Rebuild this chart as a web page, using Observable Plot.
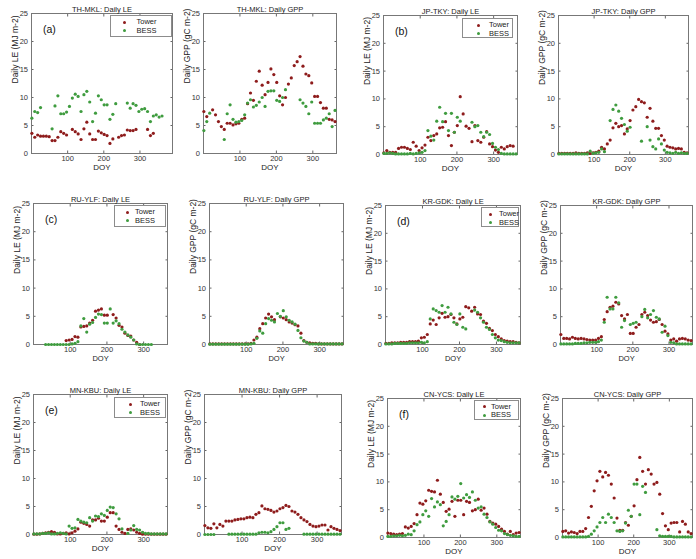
<!DOCTYPE html>
<html><head><meta charset="utf-8">
<script src="https://cdn.jsdelivr.net/npm/d3@7"></script>
<script src="https://cdn.jsdelivr.net/npm/@observablehq/plot@0.6"></script>
<style>
html,body{margin:0;padding:0;background:#fff;}
#root{position:relative;width:696px;height:559px;overflow:hidden;font-family:"Liberation Sans",Arial,sans-serif;background:#fff;}
.pw{position:absolute;overflow:hidden;}
.legend{position:absolute;background:#fff;border:1px solid #8c8c8c;box-sizing:border-box;font-size:7.5px;color:#222;}
.legend span{position:absolute;line-height:1;}
.mk{width:3px;height:3px;border-radius:50%;}
.tag{position:absolute;font-size:10.5px;color:#111;font-family:"Liberation Sans",Arial,sans-serif;}
</style></head><body><div id="root"></div>
<script>
// ---- data ----
const doy = [1,9,17,25,33,41,49,57,65,73,81,89,97,105,113,121,129,137,145,153,161,169,177,185,193,201,209,217,225,233,241,249,257,265,273,281,289,297,305,313,321,329,337,345,353,361];
const xTicks = [100,200,300];
const yTicks = [0,5,10,15,20,25];
const seriesNames = ["Tower","BESS"];
const titles = ["TH-MKL: Daily LE","TH-MKL: Daily GPP","JP-TKY: Daily LE","JP-TKY: Daily GPP",
 "RU-YLF: Daily LE","RU-YLF: Daily GPP","KR-GDK: Daily LE","KR-GDK: Daily GPP",
 "MN-KBU: Daily LE","MN-KBU: Daily GPP","CN-YCS: Daily LE","CN-YCS: Daily GPP"];
const yLabels = ["Daily LE (MJ m-2)","Daily GPP (gC m-2)"];
const tags = ["(a)","(b)","(c)","(d)","(e)","(f)"];

const thmklLeTower = [3.6,2.9,3.3,3.1,3.1,3.1,3.0,2.3,2.3,2.9,3.9,3.6,3.3,null,4.3,3.9,3.5,2.5,4.4,5.6,3.5,2.5,2.5,4.0,3.7,3.4,3.2,1.8,2.6,null,2.9,3.2,3.3,4.2,4.1,4.1,4.3,null,null,null,4.3,3.2,3.6,null,null,null];
const thmklLeBess = [6.3,7.5,7.3,8.2,null,null,null,4.4,8.5,10.3,7.1,7.1,7.4,8.4,9.9,10.6,10.2,7.5,10.5,11.1,9.2,5.7,7.2,10.3,9.6,8.7,8.7,6.1,7.0,8.9,null,null,null,9.0,8.1,8.9,8.6,7.5,7.9,8.0,7.5,5.7,6.7,6.9,6.5,6.7];
const thmklGppTower = [7.5,6.6,null,7.8,6.9,5.7,4.8,4.3,5.4,5.4,5.1,5.3,5.4,6.1,6.3,8.9,10.8,9.5,12.9,14.7,12.2,10.5,12.7,15.1,14.1,12.7,10.3,8.7,10.0,12.4,13.5,15.7,16.4,17.3,15.6,14.2,13.9,12.6,10.2,10.2,9.1,8.1,8.1,6.1,6.0,5.7];
const thmklGppBess = [4.1,5.7,7.2,null,null,null,null,2.5,7.1,8.7,6.1,5.6,5.7,5.9,6.9,9.0,9.6,8.3,8.6,9.2,10.0,8.4,11.1,11.2,11.2,9.5,9.3,10.0,11.4,null,null,null,null,9.6,9.0,8.4,7.1,9.2,5.4,5.4,5.4,6.0,6.3,7.1,4.8,7.7];
const jptkyLeTower = [0.3,0.7,0.4,0.4,0.4,1.1,1.3,1.3,1.1,0.9,2.2,1.5,0.7,1.2,1.7,3.1,2.5,3.4,3.7,4.8,4.9,5.9,3.4,1.6,4.0,5.2,10.4,7.3,5.1,4.7,2.3,5.2,2.5,2.2,3.1,4.1,1.9,1.4,0.8,0.4,1.3,1.0,1.4,1.6,1.5,null];
const jptkyLeBess = [0.2,0.2,0.3,0.2,0.1,0.1,0.1,0.1,0.1,0.2,0.1,0.2,0.3,0.4,0.7,4.3,3.3,2.6,6.0,8.5,5.9,7.4,4.3,7.4,4.0,6.7,6.0,null,null,null,5.8,5.0,5.2,4.0,3.2,4.0,3.6,2.0,1.3,0.9,0.2,0.1,0.1,0.1,0.1,0.1];
const jptkyGppTower = [0.2,0.2,0.2,0.2,0.2,0.2,0.3,0.2,0.2,0.2,0.3,0.2,0.3,0.4,0.6,1.3,1.0,1.9,2.6,4.8,5.6,5.0,5.2,3.7,4.6,6.1,8.0,8.6,9.9,9.5,9.3,6.7,8.3,6.0,4.7,4.7,3.4,2.6,1.5,1.3,1.2,1.0,1.1,1.0,0.4,0.3];
const jptkyGppBess = [0.1,0.1,0.1,0.1,0.1,0.1,0.1,0.1,0.1,0.1,0.1,0.6,0.2,0.3,0.4,1.0,0.5,null,6.1,8.1,8.9,7.8,6.5,5.4,4.2,4.9,null,null,null,2.4,null,5.0,2.6,1.4,1.0,2.8,1.9,0.8,0.4,0.3,0.2,0.4,0.2,0.3,0.2,0.2];
const ruylfLeTower = [null,null,null,null,null,null,null,null,null,null,null,0.7,0.8,0.9,1.4,1.3,3.1,3.2,3.3,3.8,4.3,5.9,6.1,6.3,5.2,5.2,null,5.3,4.7,3.4,3.1,2.0,1.6,1.5,0.8,0.4,0.0,null,null,null,null,null,null,null,null,null];
const ruylfLeBess = [null,null,null,null,0,0,0,0,0,0,0,0,0,0.1,0.2,0.5,3.3,4.6,2.2,3.6,3.9,4.8,5.4,5.3,3.8,3.8,6.3,3.8,4.2,3.7,2.7,2.2,1.7,1.3,0.8,0.1,0,0,0,0,0,null,null,null,null,null];
const ruylfGppTower = [0.1,0.1,0.1,0.1,0.1,0.1,0.1,0.1,0.1,0.1,0.1,0.1,0.1,0.1,0.2,0.8,1.3,2.8,3.7,4.7,5.4,4.9,4.4,null,4.9,4.7,4.4,4.0,3.8,3.5,3.3,2.0,0.7,0.4,0.3,0.2,0.2,0.1,0.1,0.1,0.1,0.1,0.1,0.1,0.1,0.1];
const ruylfGppBess = [0.05,0.05,0.05,0.05,0.05,0.05,0.05,0.05,0.05,0.05,0.05,0.05,0.05,0.05,0.1,0.2,1.1,2.4,2.0,3.7,4.6,4.3,4.0,5.5,5.0,6.0,4.9,4.3,4.0,3.6,2.5,1.2,0.6,0.4,0.1,0.1,0.1,0.1,0.1,0.1,0.1,0.1,0.1,0.1,0.1,0.1];
const krgdkLeTower = [0.2,0.2,0.3,0.3,0.3,0.4,0.4,0.4,0.5,0.5,0.5,0.6,1.2,1.3,1.8,3.7,4.4,3.6,4.8,5.6,4.9,5.0,5.4,4.8,3.7,4.6,4.9,6.8,6.6,6.0,6.7,5.5,5.4,4.2,3.8,2.9,2.5,1.8,1.4,1.0,0.7,0.6,0.5,0.5,0.4,0.3];
const krgdkLeBess = [0.1,0.1,0.1,0.2,0.2,0.2,0.2,0.2,0.3,0.3,0.3,0.3,0.4,0.3,0.5,4.6,6.4,6.1,5.8,7.0,5.8,6.7,5.5,4.0,3.6,5.5,3.1,2.8,null,null,6.2,5.8,4.8,4.0,3.1,2.7,1.8,1.2,0.8,0.7,0.5,0.4,0.3,0.3,0.3,0.3];
const krgdkGppTower = [1.8,1.1,1.1,1.0,1.3,1.1,1.0,1.1,1.0,0.9,0.8,0.8,0.8,1.1,1.4,4.5,5.9,6.7,6.9,7.6,7.3,5.2,4.6,5.4,2.0,2.0,3.1,3.6,5.4,5.8,5.2,4.4,4.0,4.1,4.5,3.6,2.4,1.9,0.8,1.0,0.6,1.0,1.1,1.0,0.8,0.7];
const krgdkGppBess = [0.1,0.1,0.1,0.1,0.1,0.2,0.2,0.2,0.3,0.3,0.4,0.4,0.4,0.5,0.8,4.0,8.5,6.4,6.4,8.5,7.5,3.1,4.3,null,3.6,3.8,4.0,null,5.0,6.3,4.8,5.4,6.1,4.9,4.6,2.2,3.3,1.6,0.4,0.3,0.1,0.1,0.1,0.1,0.1,0.1];
const mnkbuLeTower = [0.05,0.05,0.1,0.2,0.3,0.4,0.5,0.4,0.1,0.1,0.2,0.3,0.1,0.3,0.6,1.0,2.2,2.0,1.8,1.5,2.6,2.6,2.9,2.4,2.4,3.1,3.9,3.9,1.5,0.9,0.4,0.2,0.9,1.0,0.8,0.4,0.2,0.05,0.05,0.05,0.05,0.05,0.05,0.05,0.05,0.05];
const mnkbuLeBess = [0.1,0.1,0.1,0.2,0.2,0.3,0.1,0.1,0.2,0.3,0.2,0.1,1.5,1.1,1.2,2.7,2.4,2.2,2.1,3.0,2.4,3.3,3.2,3.7,3.4,4.3,4.9,4.8,3.7,2.8,1.0,null,0.2,0.8,1.6,0.9,0.8,0.4,0.2,0.2,0.1,0.1,0.1,0.1,0.1,0.1];
const mnkbuGppTower = [1.6,1.2,1.1,1.9,1.2,1.8,1.5,2.4,2.4,2.4,2.6,2.7,2.8,2.8,3.0,3.1,3.0,3.6,3.9,5.1,4.6,4.5,4.3,4.0,4.2,4.6,4.8,5.2,5.0,4.2,4.0,3.6,3.0,2.6,2.3,1.8,1.5,1.4,1.5,1.7,1.7,0.8,1.4,1.1,0.9,0.7];
const mnkbuGppBess = [0,0,0,0,null,null,null,null,0.05,0.05,0.05,0.05,0.05,0.05,0.05,0.05,0.05,0.05,0.3,0.4,0.4,0.3,0.5,0.9,1.4,2.1,2.1,0.9,1.1,null,null,null,null,0.05,0.05,0.05,0.05,0.05,0.05,0.05,0.05,0.05,0.05,0.05,0.05,0.05];
const cnycsLeTower = [0.8,0.7,0.6,0.5,0.6,0.7,1.9,1.7,2.0,2.5,4.1,6.2,6.0,6.6,8.5,8.3,8.2,10.3,7.8,6.3,4.7,5.1,6.5,3.8,6.7,6.7,4.1,6.5,6.3,4.8,5.0,6.9,4.9,5.3,4.2,2.9,2.6,2.4,2.0,1.5,1.1,0.6,1.1,0.5,0.8,0.9];
const cnycsLeBess = [0.2,0.2,0.3,0.3,0.4,0.3,0.4,0.6,0.5,1.2,2.3,2.8,4.1,4.8,3.8,7.0,5.5,6.4,5.9,2.1,2.9,4.1,7.3,6.9,7.4,9.7,7.1,7.7,7.2,8.2,6.7,5.3,5.5,4.2,3.6,2.8,2.4,1.8,1.3,1.2,0.7,0.5,0.4,0.3,0.2,0.2];
const cnycsGppTower = [1.1,1.2,0.8,1.0,0.9,0.7,1.1,1.1,1.6,3.6,5.6,8.4,10.2,11.9,10.9,11.7,11.2,9.6,7.1,3.5,1.3,1.3,2.7,2.2,3.8,5.7,10.4,14.4,11.9,9.6,12.2,11.4,9.6,9.9,7.8,4.3,2.1,1.4,2.6,2.7,2.7,1.0,2.9,2.4,1.0,0.7];
const cnycsGppBess = [0.1,0.1,0.1,0.1,0.1,0.1,0.1,0.1,0.1,0.2,0.6,1.2,1.9,2.7,3.6,2.7,4.2,3.6,2.7,1.2,1.1,1.2,2.6,4.9,3.8,9.6,9.6,4.1,9.2,8.1,null,null,null,1.4,0.3,0.2,0.2,0.2,0.2,0.1,0.1,0.1,0.1,0.1,0.1,0.1];

const towerSeries = [thmklLeTower,thmklGppTower,jptkyLeTower,jptkyGppTower,ruylfLeTower,ruylfGppTower,krgdkLeTower,krgdkGppTower,mnkbuLeTower,mnkbuGppTower,cnycsLeTower,cnycsGppTower];
const bessSeries = [thmklLeBess,thmklGppBess,jptkyLeBess,jptkyGppBess,ruylfLeBess,ruylfGppBess,krgdkLeBess,krgdkGppBess,mnkbuLeBess,mnkbuGppBess,cnycsLeBess,cnycsGppBess];

// ---- layout (pixel frames) ----
const layout = [
 {l:31,t:13,r:172,b:153,xmax:390},
 {l:203,t:13,r:336,b:153},
 {l:383,t:15,r:517,b:154},
 {l:558,t:15,r:688,b:154},
 {l:33,t:203,r:167,b:344,xl:16,tp:4.5},
 {l:209,t:203,r:343,b:344,xl:16,tp:4.5},
 {l:385,t:205,r:520,b:344,xl:16,tp:4.5},
 {l:560,t:205,r:692,b:344,xl:16,tp:4.5},
 {l:33,t:394,r:167,b:534},
 {l:204,t:394,r:341,b:534},
 {l:387,t:398,r:520,b:537},
 {l:562,t:398,r:692,b:537}
];
const legends = [
 {w:62,h:22,ri:0.5,top:2,mx:14,tx:26},
 {w:51,h:20,ri:4,top:3,mx:15,tx:26},
 {w:52,h:22,ri:1,top:2,mx:12,tx:20},
 {w:38,h:20,ri:1,top:2,mx:8,tx:17},
 {w:52,h:21,ri:1,top:3,mx:15,tx:25},
 {w:45,h:20,ri:1,top:1.5,mx:9,tx:16}
];
const RED = "#8e1c1c", GREEN = "#3f9c3f";
const FONT = "'Liberation Sans', Arial, sans-serif";

const root = document.getElementById("root");
const mL = 34, mR = 4, mT = 16, mB = 26;

layout.forEach((p, k) => {
  const W = p.r - p.l, H = p.b - p.t;
  const data = doy.map((d, i) => ({doy: d, tower: towerSeries[k][i], bess: bessSeries[k][i]}));
  const isLE = k % 2 === 0;
  const svg = Plot.plot({
    width: W + mL + mR, height: H + mT + mB,
    marginLeft: mL, marginRight: mR, marginTop: mT, marginBottom: mB,
    style: {fontFamily: FONT, fontSize: "7.5px", color: "#333", background: "transparent", overflow: "visible"},
    x: {domain: [0, p.xmax || 365]},
    y: {domain: [0, 25]},
    marks: [
      Plot.axisX({anchor: "bottom", ticks: xTicks, tickSize: -2.5, tickPadding: p.tp || 5, label: null, stroke: "#666"}),
      Plot.axisX({anchor: "top", ticks: xTicks, tickSize: -2.5, tickFormat: () => "", label: null, stroke: "#666"}),
      Plot.axisY({anchor: "left", ticks: yTicks, tickSize: -2.5, tickPadding: 6, label: null, stroke: "#666"}),
      Plot.axisY({anchor: "right", ticks: yTicks, tickSize: -2.5, tickFormat: () => "", label: null, stroke: "#666"}),
      Plot.frame({stroke: "#777"}),
      Plot.dot(data, {x: "doy", y: "tower", r: 1.6, fill: RED}),
      Plot.dot(data, {x: "doy", y: "bess", r: 1.6, fill: GREEN}),
      Plot.text([titles[k]], {frameAnchor: "top", dy: -7, fontSize: 7.5, fill: "#222"}),
      Plot.text([yLabels[isLE ? 0 : 1]], {frameAnchor: "left", dx: -16, rotate: -90, fontSize: 8.5, fill: "#222"}),
      Plot.text(["DOY"], {frameAnchor: "bottom", dy: p.xl || 16, fontSize: p.xl ? 7.5 : 8, fill: "#222"})
    ]
  });
  const wrap = document.createElement("div");
  wrap.className = "pw";
  const top0 = p.t - mT;
  wrap.style.left = (p.l - mL) + "px";
  wrap.style.top = top0 + "px";
  wrap.style.width = (W + mL + mR + 10) + "px";
  wrap.style.height = (p.b + mB - top0) + "px";
  wrap.appendChild(svg);
  root.appendChild(wrap);

  if (isLE) {
    const L = legends[k / 2];
    const lg = document.createElement("div");
    lg.className = "legend";
    lg.style.left = (p.r - L.ri - L.w) + "px";
    lg.style.top = (p.t + L.top) + "px";
    lg.style.width = L.w + "px";
    lg.style.height = L.h + "px";
    seriesNames.forEach((name, j) => {
      const cy = j === 0 ? 6 : 14.5;
      const m = document.createElement("span");
      m.className = "mk";
      m.style.background = j === 0 ? RED : GREEN;
      m.style.left = (L.mx - 1.5) + "px";
      m.style.top = (cy - 1.5) + "px";
      lg.appendChild(m);
      const t = document.createElement("span");
      t.textContent = name;
      t.style.left = L.tx + "px";
      t.style.top = (cy - 4) + "px";
      lg.appendChild(t);
    });
    root.appendChild(lg);
    const tg = document.createElement("div");
    tg.className = "tag";
    tg.textContent = tags[k / 2];
    tg.style.left = (p.l + 12) + "px";
    tg.style.top = (p.t + 10) + "px";
    root.appendChild(tg);
  }
});
</script></body></html>
